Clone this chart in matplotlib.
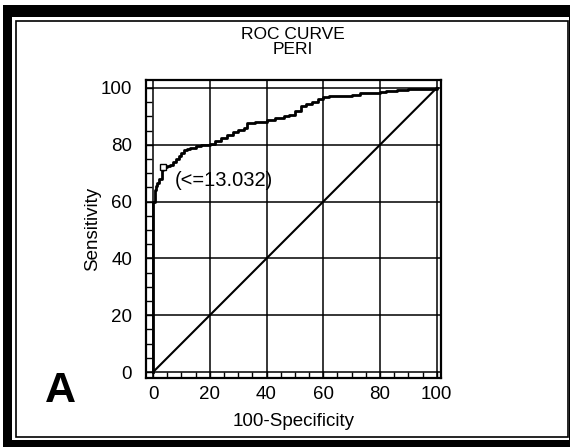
import matplotlib.pyplot as plt
from matplotlib.patches import Rectangle
from matplotlib.ticker import MultipleLocator

plt.rcParams['font.family'] = ['Liberation Sans', 'DejaVu Sans']

# ROC curve (100-specificity, sensitivity)
fpr = [0, 0, 0.5, 0.5, 1, 1.5, 2, 3, 3.5, 5, 6, 7, 8, 9, 10, 11, 12, 13, 15, 17,
       19, 20, 22, 24, 26, 28, 30, 32, 33, 36, 40, 43, 46, 48, 50, 52, 54, 56, 58, 60,
       62, 66, 70, 73, 77, 80, 82, 86, 90, 95, 100]
tpr = [0, 60, 62, 64, 65.5, 66.5, 68, 71, 72, 72.5, 73, 74, 75, 76, 77, 78, 78.5, 79, 79.5, 80,
       80, 80.3, 81.5, 82.5, 83.5, 84.5, 85.2, 86, 87.5, 88, 88.7, 89.3, 90, 90.5, 92, 93.5, 94.5, 95.2, 96, 96.7,
       97, 97.2, 97.6, 98.1, 98.2, 98.4, 99.1, 99.3, 99.6, 99.8, 100]
diag = [0, 100]
crit_x, crit_y = 3.5, 72
crit_label = "(<=13.032)"
ticks = [0, 20, 40, 60, 80, 100]

W, H = 572, 447
fig = plt.figure(figsize=(W / 100, H / 100), dpi=100)

# scanned frame around the panel
def px_rect(x0, y0, x1, y1, **kw):
    return Rectangle((x0 / W, 1 - y1 / H), (x1 - x0) / W, (y1 - y0) / H,
                     transform=fig.transFigure, **kw)

fig.add_artist(px_rect(3, 5, 570, 447, facecolor='black', edgecolor='none', zorder=-3))
fig.add_artist(px_rect(12, 17, 569, 440, facecolor='white', edgecolor='none', zorder=-2))
fig.add_artist(px_rect(16, 21, 568, 437, facecolor='none', edgecolor='black', lw=1.2, zorder=-1))

ax = fig.add_axes([146 / W, 1 - 378 / H, (441 - 146) / W, (378 - 80) / H])
ax.set_xlim(-2.5, 101.5)
ax.set_ylim(-2.1, 102.8)

ax.plot(fpr, tpr, color='black', lw=2, drawstyle='steps-post', zorder=3)
ax.plot(diag, diag, color='black', lw=1.5, zorder=3)
ax.plot([crit_x], [crit_y], marker='s', ms=4, mfc='white', mec='black', mew=1, zorder=4)
ax.text(crit_x + 4.2, crit_y - 4.5, crit_label, fontsize=14.5, va='center', ha='left')

ax.set_xticks(ticks)
ax.set_yticks(ticks)
ax.xaxis.set_minor_locator(MultipleLocator(5))
ax.yaxis.set_minor_locator(MultipleLocator(5))
ax.grid(True, which='major', color='black', lw=1.1)
ax.tick_params(which='both', direction='in', labelsize=13.5, color='black')
ax.tick_params(which='major', length=5, width=1)
ax.tick_params(which='minor', length=4, width=1)
ax.tick_params(axis='y', pad=10)
ax.tick_params(axis='x', pad=6)
for s in ax.spines.values():
    s.set_linewidth(1.6)

ax.set_xlabel("100-Specificity", fontsize=13.5, labelpad=7)
ax.set_ylabel("Sensitivity", fontsize=13.5, labelpad=0)

fig.text(293 / W, 1 - 42 / H, "ROC CURVE\nPERI", fontsize=12.5, ha='center', va='center',
         linespacing=0.95)
fig.text(60 / W, 1 - 391 / H, "A", fontsize=31, fontweight='bold', ha='center', va='center')

fig.savefig("out.png", dpi=100)
